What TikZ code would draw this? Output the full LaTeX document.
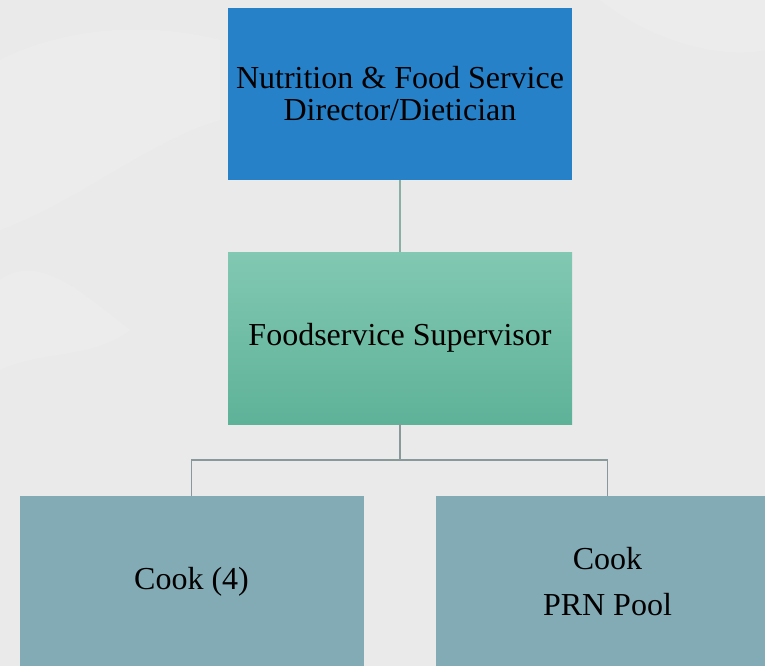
\documentclass[tikz,border=0pt]{standalone}
\usepackage{fontspec}
\setmainfont{Liberation Serif}
\definecolor{bg}{HTML}{EAEAEA}
\definecolor{bglight}{HTML}{F2F2F2}
\definecolor{topblue}{HTML}{2681C8}
\definecolor{suptop}{HTML}{82C8B2}
\definecolor{supbot}{HTML}{5EB298}
\definecolor{cookc}{HTML}{83ABB5}
\definecolor{linegreen}{HTML}{8AB0A6}
\definecolor{linegray}{HTML}{899999}
\begin{document}
\begin{tikzpicture}[x=1pt,y=-1pt,
  box/.style={minimum width=344pt, minimum height=172pt, inner sep=0pt, align=center,
    font=\fontsize{32}{32}\selectfont, text=black},
  conn/.style={line width=1.3pt}]
\clip (0,0) rectangle (765,666);
\fill[bg] (0,0) rectangle (765,666);
% faint marble blotches
\fill[bglight, opacity=0.35] (0,60) .. controls (60,30) and (140,20) .. (220,40) -- (220,120) .. controls (150,140) and (80,200) .. (0,230) -- cycle;
\fill[bglight, opacity=0.3] (0,280) .. controls (40,250) and (90,300) .. (130,330) .. controls (90,360) and (40,350) .. (0,370) -- cycle;
\fill[bglight, opacity=0.25] (600,0) .. controls (650,40) and (720,60) .. (765,50) -- (765,0) -- cycle;
\node[box, fill=topblue] (dir) at (400,94) {Nutrition \& Food Service\\Director/Dietician};
\node[box, top color=suptop, bottom color=supbot] (sup) at (400,338) {Foodservice Supervisor};
\node[box, fill=cookc] (cook) at (191.5,582) {Cook (4)};
\node[box, fill=cookc, font=\fontsize{32}{46}\selectfont] (prn) at (607.5,582) {Cook\\PRN Pool};
\coordinate (j) at (400,460);
\draw[conn, linegreen] (dir.south) -- (sup.north);
\draw[conn, linegray] (sup.south) -- (j);
\draw[conn, linegray] (j) -| (cook.north);
\draw[conn, linegray] (j) -| (prn.north);
\end{tikzpicture}
\end{document}
